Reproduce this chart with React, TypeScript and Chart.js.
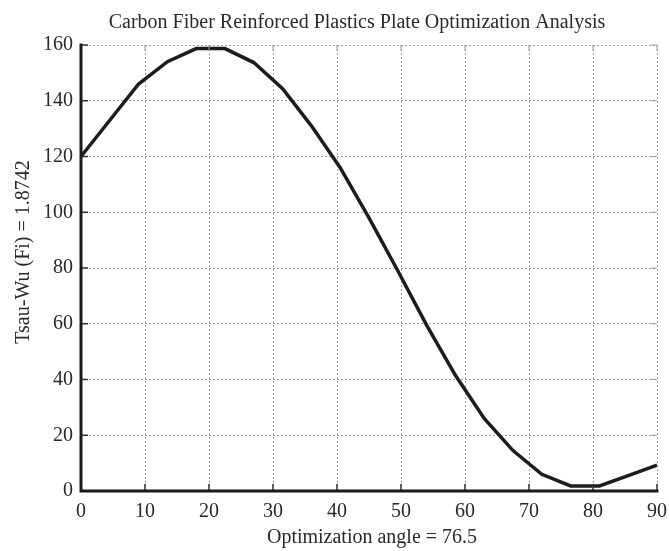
import { useEffect, useRef } from "react";
import { Chart, registerables } from "chart.js";

Chart.register(...registerables);

const angles = [0, 4.5, 9, 13.5, 18, 22.5, 27, 31.5, 36, 40.5, 45, 49.5, 54, 58.5, 63, 67.5, 72, 76.5, 81, 85.5, 90];
const tsaiWu = [120, 133, 146, 154, 158.7, 158.7, 153.7, 144.3, 131, 116, 98, 79, 59.5, 41.5, 26, 14.5, 6, 1.8, 1.8, 5.5, 9.3];
const xTicks = [0, 10, 20, 30, 40, 50, 60, 70, 80, 90];
const yTicks = [0, 20, 40, 60, 80, 100, 120, 140, 160];
const titleText = "Carbon Fiber Reinforced Plastics Plate Optimization Analysis";
const xLabel = "Optimization angle = 76.5";
const yLabel = "Tsau-Wu (Fi) = 1.8742";

const FONT = "'Liberation Serif', 'Times New Roman', serif";

const decor = {
  id: "decor",
  afterDraw(chart: any) {
    const { ctx, chartArea: a, scales } = chart;
    const xs = scales.x;
    const ys = scales.y;
    ctx.save();
    // inward tick marks
    ctx.lineWidth = 1.5;
    ctx.strokeStyle = "#333";
    ctx.beginPath();
    for (const v of yTicks) {
      const p = ys.getPixelForValue(v);
      ctx.moveTo(a.left, p);
      ctx.lineTo(a.left + 7, p);
    }
    for (const v of xTicks) {
      const p = xs.getPixelForValue(v);
      ctx.moveTo(p, a.bottom);
      ctx.lineTo(p, a.bottom - 7);
    }
    ctx.stroke();
    ctx.strokeStyle = "#999";
    ctx.lineWidth = 1;
    ctx.beginPath();
    for (const v of yTicks) {
      const p = ys.getPixelForValue(v);
      ctx.moveTo(a.right, p);
      ctx.lineTo(a.right - 6, p);
    }
    for (const v of xTicks) {
      const p = xs.getPixelForValue(v);
      ctx.moveTo(p, a.top);
      ctx.lineTo(p, a.top + 6);
    }
    ctx.stroke();
    // left & bottom axes
    ctx.strokeStyle = "#1a1a1a";
    ctx.lineWidth = 3;
    ctx.lineCap = "square";
    ctx.beginPath();
    ctx.moveTo(a.left, a.top);
    ctx.lineTo(a.left, a.bottom);
    ctx.lineTo(a.right, a.bottom);
    ctx.stroke();
    // texts
    ctx.fillStyle = "#2a2a2a";
    ctx.font = `20px ${FONT}`;
    ctx.textAlign = "center";
    ctx.textBaseline = "alphabetic";
    ctx.fillText(titleText, 357, 28);
    ctx.fillText(xLabel, 372, 543);
    ctx.translate(29, 252);
    ctx.rotate(-Math.PI / 2);
    ctx.fillText(yLabel, 0, 0);
    ctx.restore();
  },
};

export default function App() {
  const ref = useRef<HTMLCanvasElement | null>(null);
  useEffect(() => {
    if (!ref.current) return;
    const chart = new Chart(ref.current, {
      type: "line",
      data: {
        datasets: [
          {
            data: angles.map((a, i) => ({ x: a, y: tsaiWu[i] })),
            borderColor: "#1c1c1c",
            borderWidth: 3.5,
            pointRadius: 0,
            tension: 0,
            fill: false,
          },
        ],
      },
      options: {
        animation: false,
        responsive: false,
        devicePixelRatio: 1,
        layout: { padding: { top: 45, right: 12, left: 0, bottom: 0 } },
        plugins: { legend: { display: false }, tooltip: { enabled: false }, title: { display: false } },
        scales: {
          x: {
            type: "linear",
            min: 0,
            max: 90,
            afterBuildTicks: (s: any) => {
              s.ticks = xTicks.map((v) => ({ value: v }));
            },
            afterFit: (s: any) => {
              s.height = 60;
              s.paddingLeft = 0;
              s.paddingRight = 0;
            },
            grid: { color: "#a3a3a3", lineWidth: 1, drawTicks: false },
            border: { display: false, dash: [2, 2] },
            ticks: {
              padding: 9,
              color: "#2a2a2a",
              maxRotation: 0,
              autoSkip: false,
              font: { family: FONT, size: 20 },
            },
          },
          y: {
            type: "linear",
            min: 0,
            max: 160,
            afterBuildTicks: (s: any) => {
              s.ticks = yTicks.map((v) => ({ value: v }));
            },
            afterFit: (s: any) => {
              s.width = 81;
              s.paddingTop = 0;
              s.paddingBottom = 0;
            },
            grid: { color: "#a3a3a3", lineWidth: 1, drawTicks: false },
            border: { display: false, dash: [2, 2] },
            ticks: {
              padding: 8,
              color: "#2a2a2a",
              autoSkip: false,
              font: { family: FONT, size: 20 },
            },
          },
        },
      },
      plugins: [decor],
    });
    return () => chart.destroy();
  }, []);
  return (
    <div style={{ position: "absolute", left: 0, top: 0, width: 669, height: 551, background: "#fff" }}>
      <canvas ref={ref} width={669} height={551} />
    </div>
  );
}
